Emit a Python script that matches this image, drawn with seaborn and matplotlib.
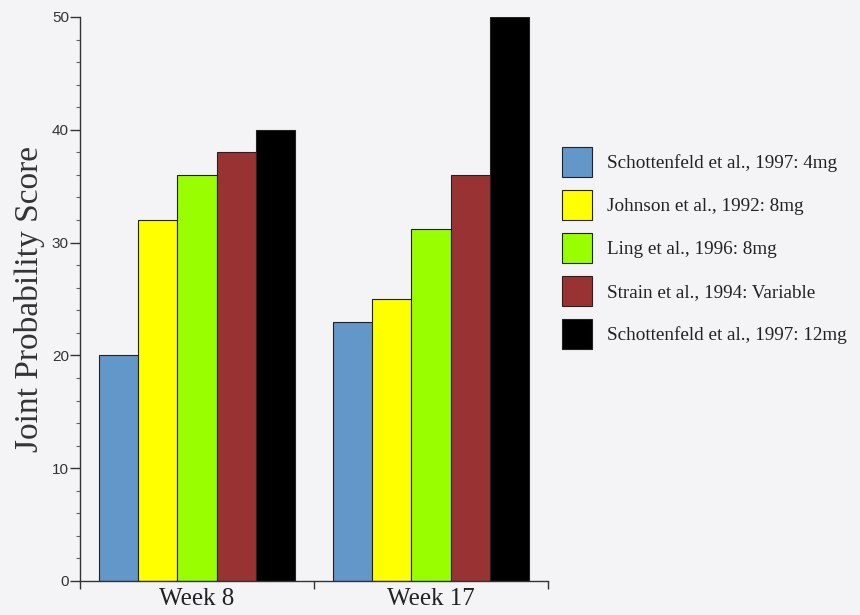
import matplotlib
matplotlib.use("Agg")
import matplotlib.pyplot as plt
from matplotlib.patches import Patch
from matplotlib.ticker import MultipleLocator, FixedLocator
import seaborn as sns
import pandas as pd

weeks = ["Week 8", "Week 17"]
studies = [
    "Schottenfeld et al., 1997: 4mg",
    "Johnson et al., 1992: 8mg",
    "Ling et al., 1996: 8mg",
    "Strain et al., 1994: Variable",
    "Schottenfeld et al., 1997: 12mg",
]
week8_scores = [20, 32, 36, 38, 40]
week17_scores = [23, 25, 31.2, 36, 50]
colors = ["#6396c9", "#ffff00", "#99ff00", "#993333", "#000000"]

rows = []
for s, v8, v17 in zip(studies, week8_scores, week17_scores):
    rows.append({"week": weeks[0], "study": s, "score": v8})
    rows.append({"week": weeks[1], "study": s, "score": v17})
df = pd.DataFrame(rows)

sns.set_style("white")
bg = "#f4f4f7"
fig = plt.figure(figsize=(8.6, 6.15), dpi=100, facecolor=bg)
ax = fig.add_axes([80/860, 1-581/615, (548-80)/860, (581-17)/615])
ax.set_facecolor(bg)

sns.barplot(data=df, x="week", y="score", hue="study", hue_order=studies,
            order=weeks, palette=colors, width=0.84, ax=ax,
            edgecolor="#222222", linewidth=0.8, saturation=1, legend=False)

ax.set_xlim(-0.5, 1.5)
ax.set_ylim(0, 50)
for sp in ["top", "right"]:
    ax.spines[sp].set_visible(False)
for sp in ["left", "bottom"]:
    ax.spines[sp].set_color("#333333")
    ax.spines[sp].set_linewidth(1.0)

ax.yaxis.set_major_locator(MultipleLocator(10))
ax.yaxis.set_minor_locator(MultipleLocator(2))
ax.tick_params(axis="y", which="major", direction="out", length=7, width=1,
               color="#333333", labelsize=11, pad=1, left=True)
ax.tick_params(axis="y", which="minor", direction="out", length=3, width=0.8,
               color="#666666", left=True)
for lbl in ax.get_yticklabels():
    lbl.set_family("Liberation Sans")
    lbl.set_color("#333333")

ax.set_xticks([0, 1])
ax.set_xticklabels(weeks, family="Liberation Serif", fontsize=18, color="#222222")
ax.tick_params(axis="x", which="major", length=0, pad=5)
ax.xaxis.set_minor_locator(FixedLocator([-0.5, 0.5, 1.5]))
ax.tick_params(axis="x", which="minor", direction="out", length=6, width=1,
               color="#333333", bottom=True)

ax.set_xlabel("")
ax.set_ylabel("Joint Probability Score", family="Liberation Serif",
              fontsize=24, color="#333333", labelpad=5)

handles = [Patch(facecolor=c, edgecolor="#222222", linewidth=0.8) for c in colors]
fig.legend(handles, studies, loc="upper left",
           bbox_to_anchor=(562/860, 1-147/615), frameon=False,
           prop={"family": "Liberation Serif", "size": 13.8},
           handlelength=1.56, handleheight=2.03, labelspacing=0.68,
           handletextpad=0.78, borderpad=0, borderaxespad=0,
           labelcolor="#222222")

fig.savefig("out.png", dpi=100, facecolor=bg)
